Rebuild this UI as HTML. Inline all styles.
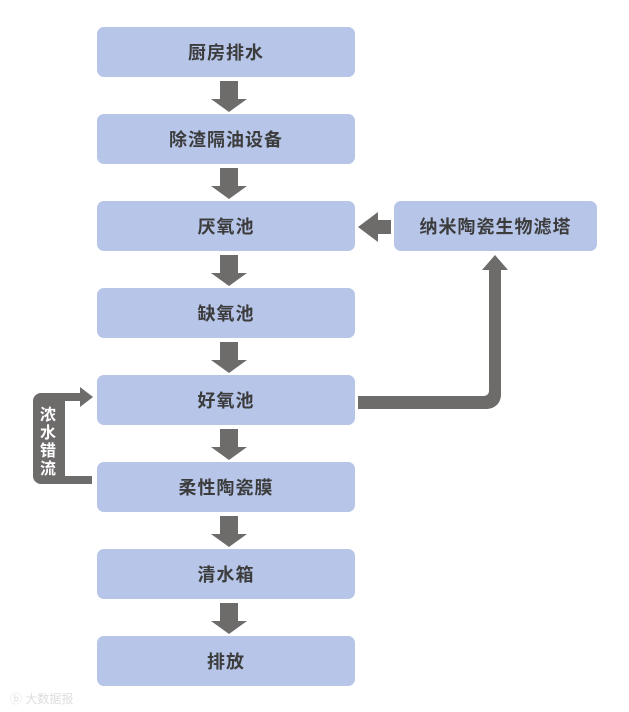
<!DOCTYPE html>
<html><head><meta charset="utf-8"><style>
body{margin:0;width:629px;height:712px;background:#fff;position:relative;overflow:hidden;font-family:"Liberation Sans","Noto Sans CJK SC",sans-serif}
.b{position:absolute;left:97px;width:258px;height:50px;background:#b6c5e8;border-radius:7px;color:#3c3c3c;font-size:18px;font-weight:bold;display:flex;align-items:center;justify-content:center;letter-spacing:1px}
svg{position:absolute;left:0;top:0}
</style></head><body>
<div class="b" style="top:27px">厨房排水</div>
<div class="b" style="top:114px">除渣隔油设备</div>
<div class="b" style="top:201px">厌氧池</div>
<div class="b" style="top:288px">缺氧池</div>
<div class="b" style="top:375px">好氧池</div>
<div class="b" style="top:462px">柔性陶瓷膜</div>
<div class="b" style="top:549px">清水箱</div>
<div class="b" style="top:636px">排放</div>
<div class="b" style="top:201px;left:394px;width:203px;height:50px">纳米陶瓷生物滤塔</div>
<svg width="629" height="712">
<g fill="#6e6b6b">
<path id="a" d="M220 81h18v18h9l-18 13l-18-13h9z"/>
<use href="#a" y="87"/><use href="#a" y="174"/><use href="#a" y="261"/><use href="#a" y="348"/><use href="#a" y="435"/><use href="#a" y="522"/>
<path d="M358 227l20-15v8h13v14h-13v8z"/>
<path d="M358 396h126a5 5 0 0 0 5-5v-121h-7l13-15l13 15h-7v125a14 14 0 0 1-14 14h-129z"/>
<path d="M41 393h39v-6l13 10l-13 10v-6h-15v75h27v8h-51a8 8 0 0 1-8-8v-75a8 8 0 0 1 8-8z"/>
</g>
<text x="48" y="420" fill="#fff" font-size="16" font-weight="bold" text-anchor="middle" font-family="Liberation Sans,Noto Sans CJK SC,sans-serif">浓</text>
<text x="48" y="438" fill="#fff" font-size="16" font-weight="bold" text-anchor="middle" font-family="Liberation Sans,Noto Sans CJK SC,sans-serif">水</text>
<text x="48" y="456" fill="#fff" font-size="16" font-weight="bold" text-anchor="middle" font-family="Liberation Sans,Noto Sans CJK SC,sans-serif">错</text>
<text x="48" y="474" fill="#fff" font-size="16" font-weight="bold" text-anchor="middle" font-family="Liberation Sans,Noto Sans CJK SC,sans-serif">流</text>
<text x="10" y="703" fill="#ddd" font-size="12" font-family="Liberation Sans,Noto Sans CJK SC,sans-serif">ⓑ 大数据报</text>
</svg>
</body></html>
